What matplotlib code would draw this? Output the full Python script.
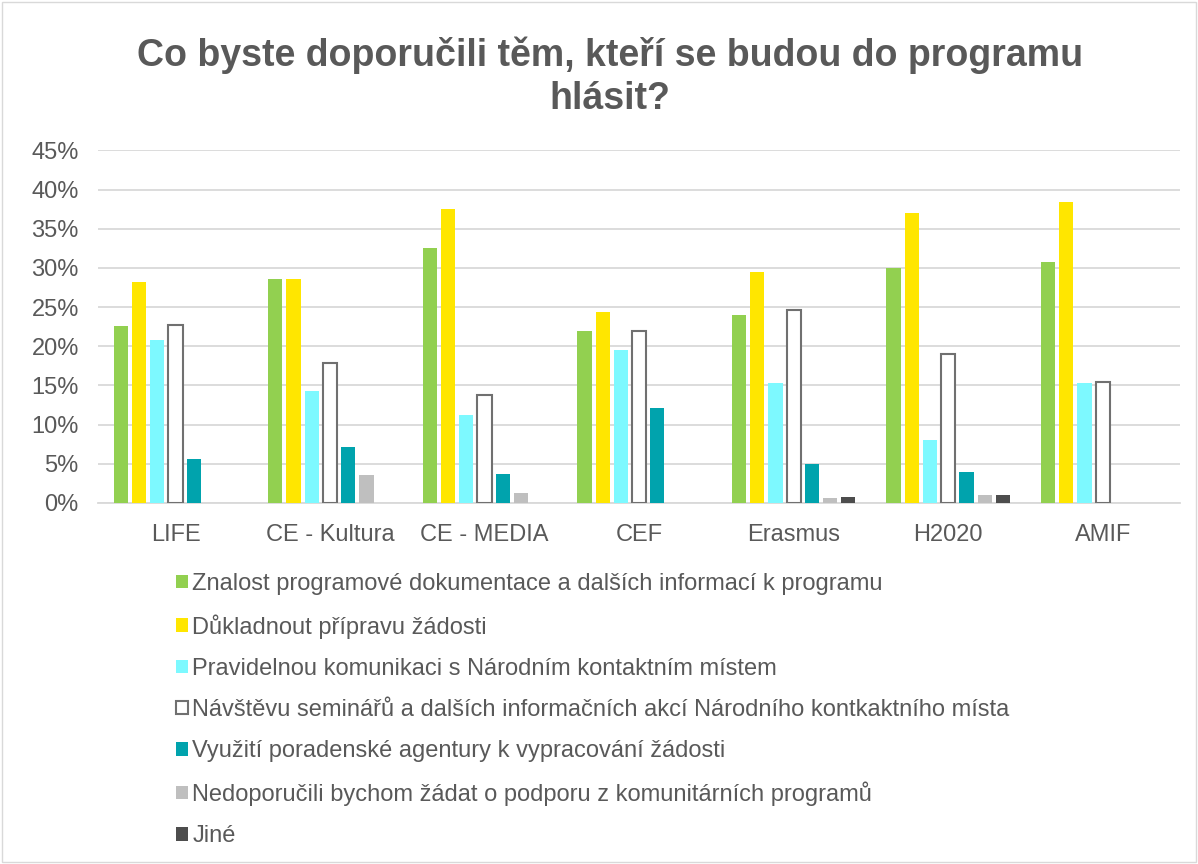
import matplotlib.pyplot as plt
import numpy as np

plt.rcParams['font.family'] = ['Liberation Sans', 'DejaVu Sans']

categories = ["LIFE", "CE - Kultura", "CE - MEDIA", "CEF", "Erasmus", "H2020", "AMIF"]
series_names = [
    "Znalost programové dokumentace a dalších informací k programu",
    "Důkladnout přípravu žádosti",
    "Pravidelnou komunikaci s Národním kontaktním místem",
    "Návštěvu seminářů a dalších informačních akcí Národního kontkaktního místa",
    "Využití poradenské agentury k vypracování žádosti",
    "Nedoporučili bychom žádat o podporu z komunitárních programů",
    "Jiné",
]
znalost = [22.6, 28.6, 32.5, 21.9, 24.0, 30.0, 30.7]
pripravu = [28.2, 28.6, 37.5, 24.4, 29.5, 37.0, 38.4]
komunikaci = [20.8, 14.3, 11.2, 19.5, 15.3, 8.0, 15.3]
seminare = [22.7, 17.9, 13.8, 21.9, 24.6, 19.0, 15.4]
agentura = [5.6, 7.1, 3.7, 12.1, 5.0, 4.0, 0.0]
nedoporucili = [0.0, 3.6, 1.3, 0.0, 0.6, 1.0, 0.0]
jine = [0.0, 0.0, 0.0, 0.0, 0.8, 1.0, 0.0]

series = [znalost, pripravu, komunikaci, seminare, agentura, nedoporucili, jine]
colors = ["#92D050", "#FFE600", "#7DF9FF", "#FFFFFF", "#00A3AD", "#BFBFBF", "#4D4D4D"]
text_color = "#595959"

fig = plt.figure(figsize=(11.98, 8.64), dpi=100)
ax = fig.add_axes([0.082, 0.418, 0.903, 0.408])

x = np.arange(len(categories))
stride = 0.118
for i, (vals, col) in enumerate(zip(series, colors)):
    pos = x + (i - 3) * stride
    if col == "#FFFFFF":
        ax.bar(pos, np.array(vals) / 100, width=0.092, color=col,
               edgecolor="#707070", linewidth=1.5, label=series_names[i], zorder=3)
    else:
        ax.bar(pos, np.array(vals) / 100, width=0.092, color=col,
               label=series_names[i], zorder=3)

ax.set_xlim(-0.5, 6.5)
ax.set_ylim(0, 0.45)
ax.set_yticks(np.arange(0, 0.46, 0.05))
ax.set_yticklabels([f"{v}%" for v in range(0, 46, 5)])
ax.set_xticks(x)
ax.set_xticklabels(categories)
ax.tick_params(length=0, labelsize=17, colors=text_color, pad=15)
ax.tick_params(axis="y", pad=14)
ax.grid(axis="y", color="#D9D9D9", linewidth=1.3, zorder=0)
for s in ["top", "right", "left"]:
    ax.spines[s].set_visible(False)
ax.spines["bottom"].set_color("#D9D9D9")
ax.spines["bottom"].set_linewidth(1.3)

fig.suptitle("Co byste doporučili těm, kteří se budou do programu\nhlásit?",
             x=0.509, y=0.958, fontsize=27, fontweight="bold", color=text_color,
             linespacing=1.25)

leg = fig.legend(loc="upper left", bbox_to_anchor=(0.139, 0.348), frameon=False,
                 fontsize=17, labelcolor=text_color, handlelength=0.5,
                 handleheight=0.5, handletextpad=0.2, labelspacing=0.815,
                 borderaxespad=0)

fig.patches.append(plt.Rectangle((0.002, 0.002), 0.996, 0.996, transform=fig.transFigure,
                                 fill=False, edgecolor="#D9D9D9", linewidth=1))

plt.savefig("out.png", dpi=100)
